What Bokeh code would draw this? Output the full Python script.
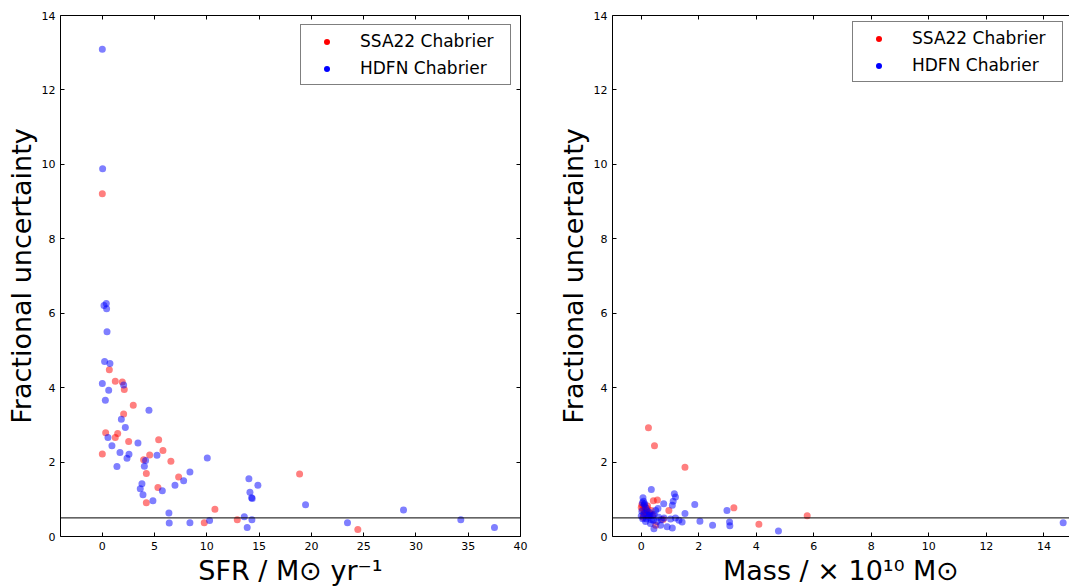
from bokeh.plotting import figure
from bokeh.models import (Span, Legend, LegendItem, LinearAxis, ColumnDataSource, Range1d,
                          FixedTicker)
from bokeh.layouts import row
from bokeh.embed import file_html
from bokeh.resources import INLINE

# ---------------- data ----------------
# Left panel: SFR vs fractional uncertainty
ssa22_sfr = [0.0, 0.67, 1.24, 1.91, 2.10, 2.96, 2.04, 0.32, 1.47, 1.24, 2.52, 5.39, 5.80,
             0.0, 4.53, 3.95, 6.56, 4.21, 18.87, 7.30, 5.32, 4.21, 10.77, 12.91, 9.75, 24.44]
ssa22_sfr_unc = [9.21, 4.48, 4.17, 4.15, 3.95, 3.53, 3.29, 2.79, 2.77, 2.66, 2.55, 2.60, 2.31,
                 2.22, 2.19, 2.06, 2.02, 1.69, 1.68, 1.60, 1.32, 0.91, 0.73, 0.45, 0.37, 0.19]

hdfn_sfr = [0.0, 0.03, 0.38, 0.16, 0.41, 0.45, 0.22, 0.73, 2.04, 0.0, 0.61, 0.29, 4.46,
            1.82, 2.20, 0.54, 0.92, 3.41, 1.69, 2.55, 5.23, 2.36, 10.04, 4.14, 4.02, 1.40,
            8.38, 14.02, 7.78, 6.95, 14.88, 3.79, 3.63, 5.74, 14.12, 3.89, 14.28, 14.34,
            4.84, 19.44, 28.81, 6.37, 13.58, 34.29, 14.31, 10.26, 6.40, 8.38, 23.45, 13.86, 37.51]
hdfn_sfr_unc = [13.09, 9.88, 6.26, 6.21, 6.12, 5.50, 4.70, 4.65, 4.07, 4.11, 3.93, 3.66, 3.39,
                3.15, 2.93, 2.66, 2.44, 2.51, 2.26, 2.21, 2.18, 2.10, 2.11, 2.04, 1.89, 1.88,
                1.73, 1.55, 1.50, 1.38, 1.38, 1.42, 1.28, 1.23, 1.19, 1.12, 1.04, 1.02,
                0.96, 0.85, 0.71, 0.63, 0.53, 0.45, 0.45, 0.43, 0.36, 0.37, 0.37, 0.24, 0.24]

# Right panel: stellar mass (x 1e10 Msun) vs fractional uncertainty
ssa22_mass = [0.25, 0.46, 1.52, 3.22, 4.09, 5.77, 0.56, 0.42, 0.00, 0.96, 0.76, 0.50, 0.05,
              0.10, 0.15, 0.20, 0.08, 0.30, 0.12, 0.25, 0.02, 0.18, 0.35, 0.06, 0.22, 0.40]
ssa22_mass_unc = [2.92, 2.44, 1.86, 0.77, 0.33, 0.56, 0.98, 0.96, 0.78, 0.70, 0.46, 0.30, 0.72,
                  0.80, 0.65, 0.75, 0.58, 0.62, 0.68, 0.55, 0.85, 0.60, 0.70, 0.52, 0.82, 0.58]

hdfn_mass = [0.35, 1.15, 1.19, 1.11, 0.06, 0.04, 0.10, 0.78, 1.86, 1.08, 0.58, 1.52, 2.04,
             0.79, 1.19, 1.02, 1.31, 1.42, 0.90, 0.44, 0.67, 1.08, 2.98, 3.07, 3.08, 2.48,
             4.77, 14.67, 0.42, 0.15, 0.20, 0.10, 0.30, 0.05, 0.15, 0.25, 0.35, 0.00, 0.12,
             0.28, 0.45, 0.55, 0.60, 0.50, 0.02, 0.18, 0.32, 0.08, 0.22, 0.38, 0.70]
hdfn_mass_unc = [1.26, 1.15, 1.06, 0.95, 1.04, 0.91, 0.85, 0.88, 0.86, 0.84, 0.75, 0.62, 0.41,
                 0.50, 0.50, 0.47, 0.44, 0.39, 0.26, 0.21, 0.30, 0.23, 0.70, 0.39, 0.29, 0.30,
                 0.15, 0.37, 0.44, 0.78, 0.70, 0.62, 0.58, 0.48, 0.40, 0.52, 0.45, 0.55, 0.88,
                 0.65, 0.60, 0.40, 0.52, 0.70, 0.68, 0.48, 0.35, 0.95, 0.58, 0.55, 0.45]

threshold = 0.5

sfr_ticks = [0, 5, 10, 15, 20, 25, 30, 35, 40]
mass_ticks = [0, 2, 4, 6, 8, 10, 12, 14]
unc_ticks = [0, 2, 4, 6, 8, 10, 12, 14]

series_labels = ["SSA22 Chabrier", "HDFN Chabrier"]
y_label = "Fractional uncertainty"
sfr_label = "SFR / M\u2299 yr\u207b\u00b9"
mass_label = "Mass / \u00d7 10\u00b9\u2070 M\u2299"

FONT = "DejaVu Sans"


def style_axis(ax, ticks, show_labels=True):
    ax.ticker = FixedTicker(ticks=ticks)
    ax.axis_line_color = "black"
    ax.axis_line_width = 1
    ax.major_tick_line_color = "black"
    ax.major_tick_in = 4
    ax.major_tick_out = 0
    ax.minor_tick_line_color = None
    ax.major_label_text_font = FONT
    ax.major_label_text_font_size = "11px"
    ax.major_label_text_color = "black"
    ax.major_label_standoff = 5
    if not show_labels:
        ax.major_label_text_color = None
        ax.major_label_standoff = 0
    ax.axis_label_text_font = FONT
    ax.axis_label_text_font_size = "27px"
    ax.axis_label_text_font_style = "normal"
    ax.axis_label_text_color = "black"
    ax.axis_label_standoff = 2


def make_panel(xs_r, ys_r, xs_b, ys_b, xrange, xticks, xlabel, width, border_left,
               border_right, right_axis, legend_margin):
    p = figure(width=width, height=588, output_backend="svg", toolbar_location=None,
               x_range=Range1d(*xrange), y_range=Range1d(0, 14),
               min_border_left=border_left, min_border_right=border_right,
               min_border_top=15, min_border_bottom=50)
    p.grid.visible = False
    p.outline_line_color = None
    p.background_fill_color = "white"
    p.border_fill_color = "white"

    style_axis(p.xaxis[0], xticks)
    style_axis(p.yaxis[0], unc_ticks)
    p.xaxis[0].axis_label = xlabel
    p.yaxis[0].axis_label = y_label

    top = LinearAxis()
    style_axis(top, xticks, show_labels=False)
    p.add_layout(top, "above")
    if right_axis:
        rax = LinearAxis()
        style_axis(rax, unc_ticks, show_labels=False)
        p.add_layout(rax, "right")

    src_r = ColumnDataSource(dict(x=xs_r, y=ys_r))
    src_b = ColumnDataSource(dict(x=xs_b, y=ys_b))
    p.scatter("x", "y", source=src_r, size=7, fill_color="red", fill_alpha=0.5, line_color=None)
    p.scatter("x", "y", source=src_b, size=7, fill_color="blue", fill_alpha=0.5, line_color=None)

    p.add_layout(Span(location=threshold, dimension="width", line_color="black", line_width=1))

    # legend swatch renderers: same data at zero size (invisible on the plot),
    # the legend draws its own solid marker sized from the glyph box
    leg_r = p.scatter("x", "y", source=src_r, size=0, fill_color="red", fill_alpha=1.0,
                      line_color=None)
    leg_b = p.scatter("x", "y", source=src_b, size=0, fill_color="blue", fill_alpha=1.0,
                      line_color=None)
    legend = Legend(items=[LegendItem(label=series_labels[0], renderers=[leg_r]),
                           LegendItem(label=series_labels[1], renderers=[leg_b])],
                    location="top_right", margin=legend_margin,
                    border_line_color="black", border_line_width=1,
                    background_fill_color="white", background_fill_alpha=1.0,
                    label_text_font=FONT, label_text_font_size="17px", label_text_color="black",
                    glyph_width=39, glyph_height=15, label_height=20, label_width=144,
                    label_standoff=14, padding=6, spacing=7)
    p.add_layout(legend)
    return p


p1 = make_panel(ssa22_sfr, ssa22_sfr_unc, hdfn_sfr, hdfn_sfr_unc, (-4, 40), sfr_ticks, sfr_label,
                534, 60, 14, True, 9)
p2 = make_panel(ssa22_mass, ssa22_mass_unc, hdfn_mass, hdfn_mass_unc, (-1, 14.89), mass_ticks,
                mass_label, 535, 78, 0, False, 6)

layout = row(p1, p2)
open("out.html", "w").write(file_html(layout, INLINE))
